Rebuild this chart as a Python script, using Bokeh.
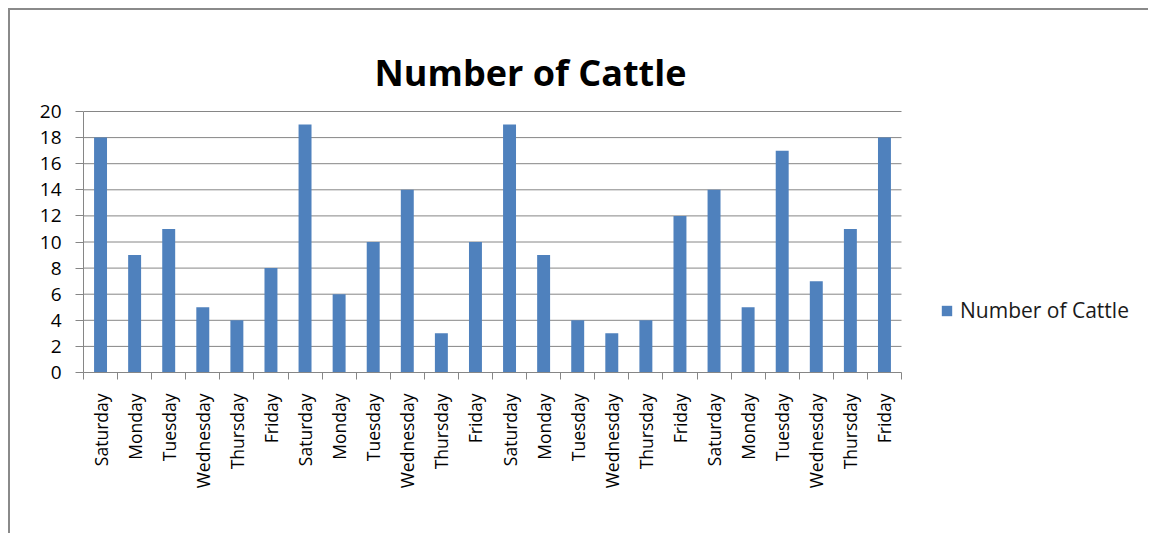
import math

from bokeh.embed import file_html
from bokeh.models import (ColumnDataSource, FixedTicker, Label, Legend,
                          LegendItem, Range1d)
from bokeh.plotting import figure
from bokeh.resources import INLINE

# --- data -------------------------------------------------------------
days = ["Saturday", "Monday", "Tuesday", "Wednesday", "Thursday", "Friday",
        "Saturday", "Monday", "Tuesday", "Wednesday", "Thursday", "Friday",
        "Saturday", "Monday", "Tuesday", "Wednesday", "Thursday", "Friday",
        "Saturday", "Monday", "Tuesday", "Wednesday", "Thursday", "Friday"]
cattle = [18, 9, 11, 5, 4, 8,
          19, 6, 10, 14, 3, 10,
          19, 9, 4, 3, 4, 12,
          14, 5, 17, 7, 11, 18]
y_ticks = list(range(0, 21, 2))
title_text = "Number of Cattle"
series_name = "Number of Cattle"

# --- styling ------------------------------------------------------------
BAR_COLOR = "#4F81BD"
AXIS_GRAY = "#868686"
FONT = "Open Sans"

n = len(days)
y_max = y_ticks[-1]
centers = [i + 0.5 for i in range(n)]
source = ColumnDataSource(data=dict(x=centers, top=cattle, day=days))

# Page geometry (pixels): canvas starts at (10, 10) after margin + border.
CANVAS_X0, CANVAS_Y0 = 10, 10
W, H = 1140, 525
AREA_LEFT, AREA_RIGHT, AREA_TOP, AREA_BOTTOM = 83, 901, 111, 372
px_per_x = (AREA_RIGHT - AREA_LEFT) / n
px_per_y = (AREA_BOTTOM - AREA_TOP) / y_max

# The frame spans the whole canvas right of / above the axes, so the title
# and legend sit inside it; axes and gridlines are limited to the category area.
frame_w = CANVAS_X0 + W - AREA_LEFT
frame_h = AREA_BOTTOM - CANVAS_Y0
x_end = frame_w / px_per_x
y_end = frame_h / px_per_y

p = figure(width=W, height=H, output_backend="svg", toolbar_location=None,
           x_range=Range1d(0, x_end), y_range=Range1d(0, y_end),
           min_border_left=AREA_LEFT - CANVAS_X0, min_border_right=0,
           min_border_top=0, min_border_bottom=CANVAS_Y0 + H - AREA_BOTTOM)
p.margin = (8, 0, 0, 8)
p.styles = {"border-left": "2px solid #8a8a8a", "border-top": "2px solid #8a8a8a"}
p.outline_line_color = None
p.background_fill_color = "white"
p.border_fill_color = "white"
p.xgrid.grid_line_color = None
p.ygrid.grid_line_color = None

# horizontal gridlines across the category area only
grid_y = [t for t in y_ticks if t > 0]
p.segment(x0=[0] * len(grid_y), x1=[n] * len(grid_y), y0=grid_y, y1=grid_y,
          line_color=AXIS_GRAY, line_width=1)

bars = p.vbar(x="x", top="top", width=0.38, source=source,
              fill_color=BAR_COLOR, line_color=None)

# y axis
p.yaxis.ticker = FixedTicker(ticks=y_ticks)
p.yaxis.bounds = (0, y_max)
p.yaxis.axis_line_color = AXIS_GRAY
p.yaxis.major_tick_line_color = AXIS_GRAY
p.yaxis.major_tick_out = 8
p.yaxis.major_tick_in = 0
p.yaxis.minor_tick_line_color = None
p.yaxis.major_label_text_font = FONT
p.yaxis.major_label_text_font_size = "19px"
p.yaxis.major_label_text_color = "black"
p.yaxis.major_label_standoff = 14

# x axis: labels at category centres, tick marks at category boundaries
p.xaxis.ticker = FixedTicker(ticks=centers, minor_ticks=list(range(n + 1)))
p.xaxis.bounds = (0, n)
p.xaxis.major_label_overrides = {c: d for c, d in zip(centers, days)}
p.xaxis.axis_line_color = AXIS_GRAY
p.xaxis.major_tick_line_color = None
p.xaxis.major_tick_out = 0
p.xaxis.major_tick_in = 0
p.xaxis.minor_tick_line_color = AXIS_GRAY
p.xaxis.minor_tick_out = 7
p.xaxis.minor_tick_in = 0
p.xaxis.major_label_orientation = math.pi / 2
p.xaxis.major_label_text_font = FONT
p.xaxis.major_label_text_font_size = "17.5px"
p.xaxis.major_label_text_color = "black"
p.xaxis.major_label_standoff = 14

# chart title
p.add_layout(Label(x=(530 - AREA_LEFT) / px_per_x,
                   y=(AREA_BOTTOM - 72) / px_per_y,
                   text=title_text, text_font=FONT, text_font_size="36px",
                   text_font_style="bold", text_align="center",
                   text_baseline="alphabetic", text_color="black"))

# legend to the right of the category area
legend = Legend(items=[LegendItem(label=series_name, renderers=[bars])],
                location=(940 - AREA_LEFT, 48), orientation="vertical",
                glyph_width=13, glyph_height=13, label_standoff=7,
                label_text_font=FONT, label_text_font_size="21px",
                label_text_color="#1a1a1a", padding=0, margin=0,
                border_line_alpha=0, background_fill_alpha=0)
p.add_layout(legend, "center")

open("out.html", "w").write(file_html(p, INLINE))
